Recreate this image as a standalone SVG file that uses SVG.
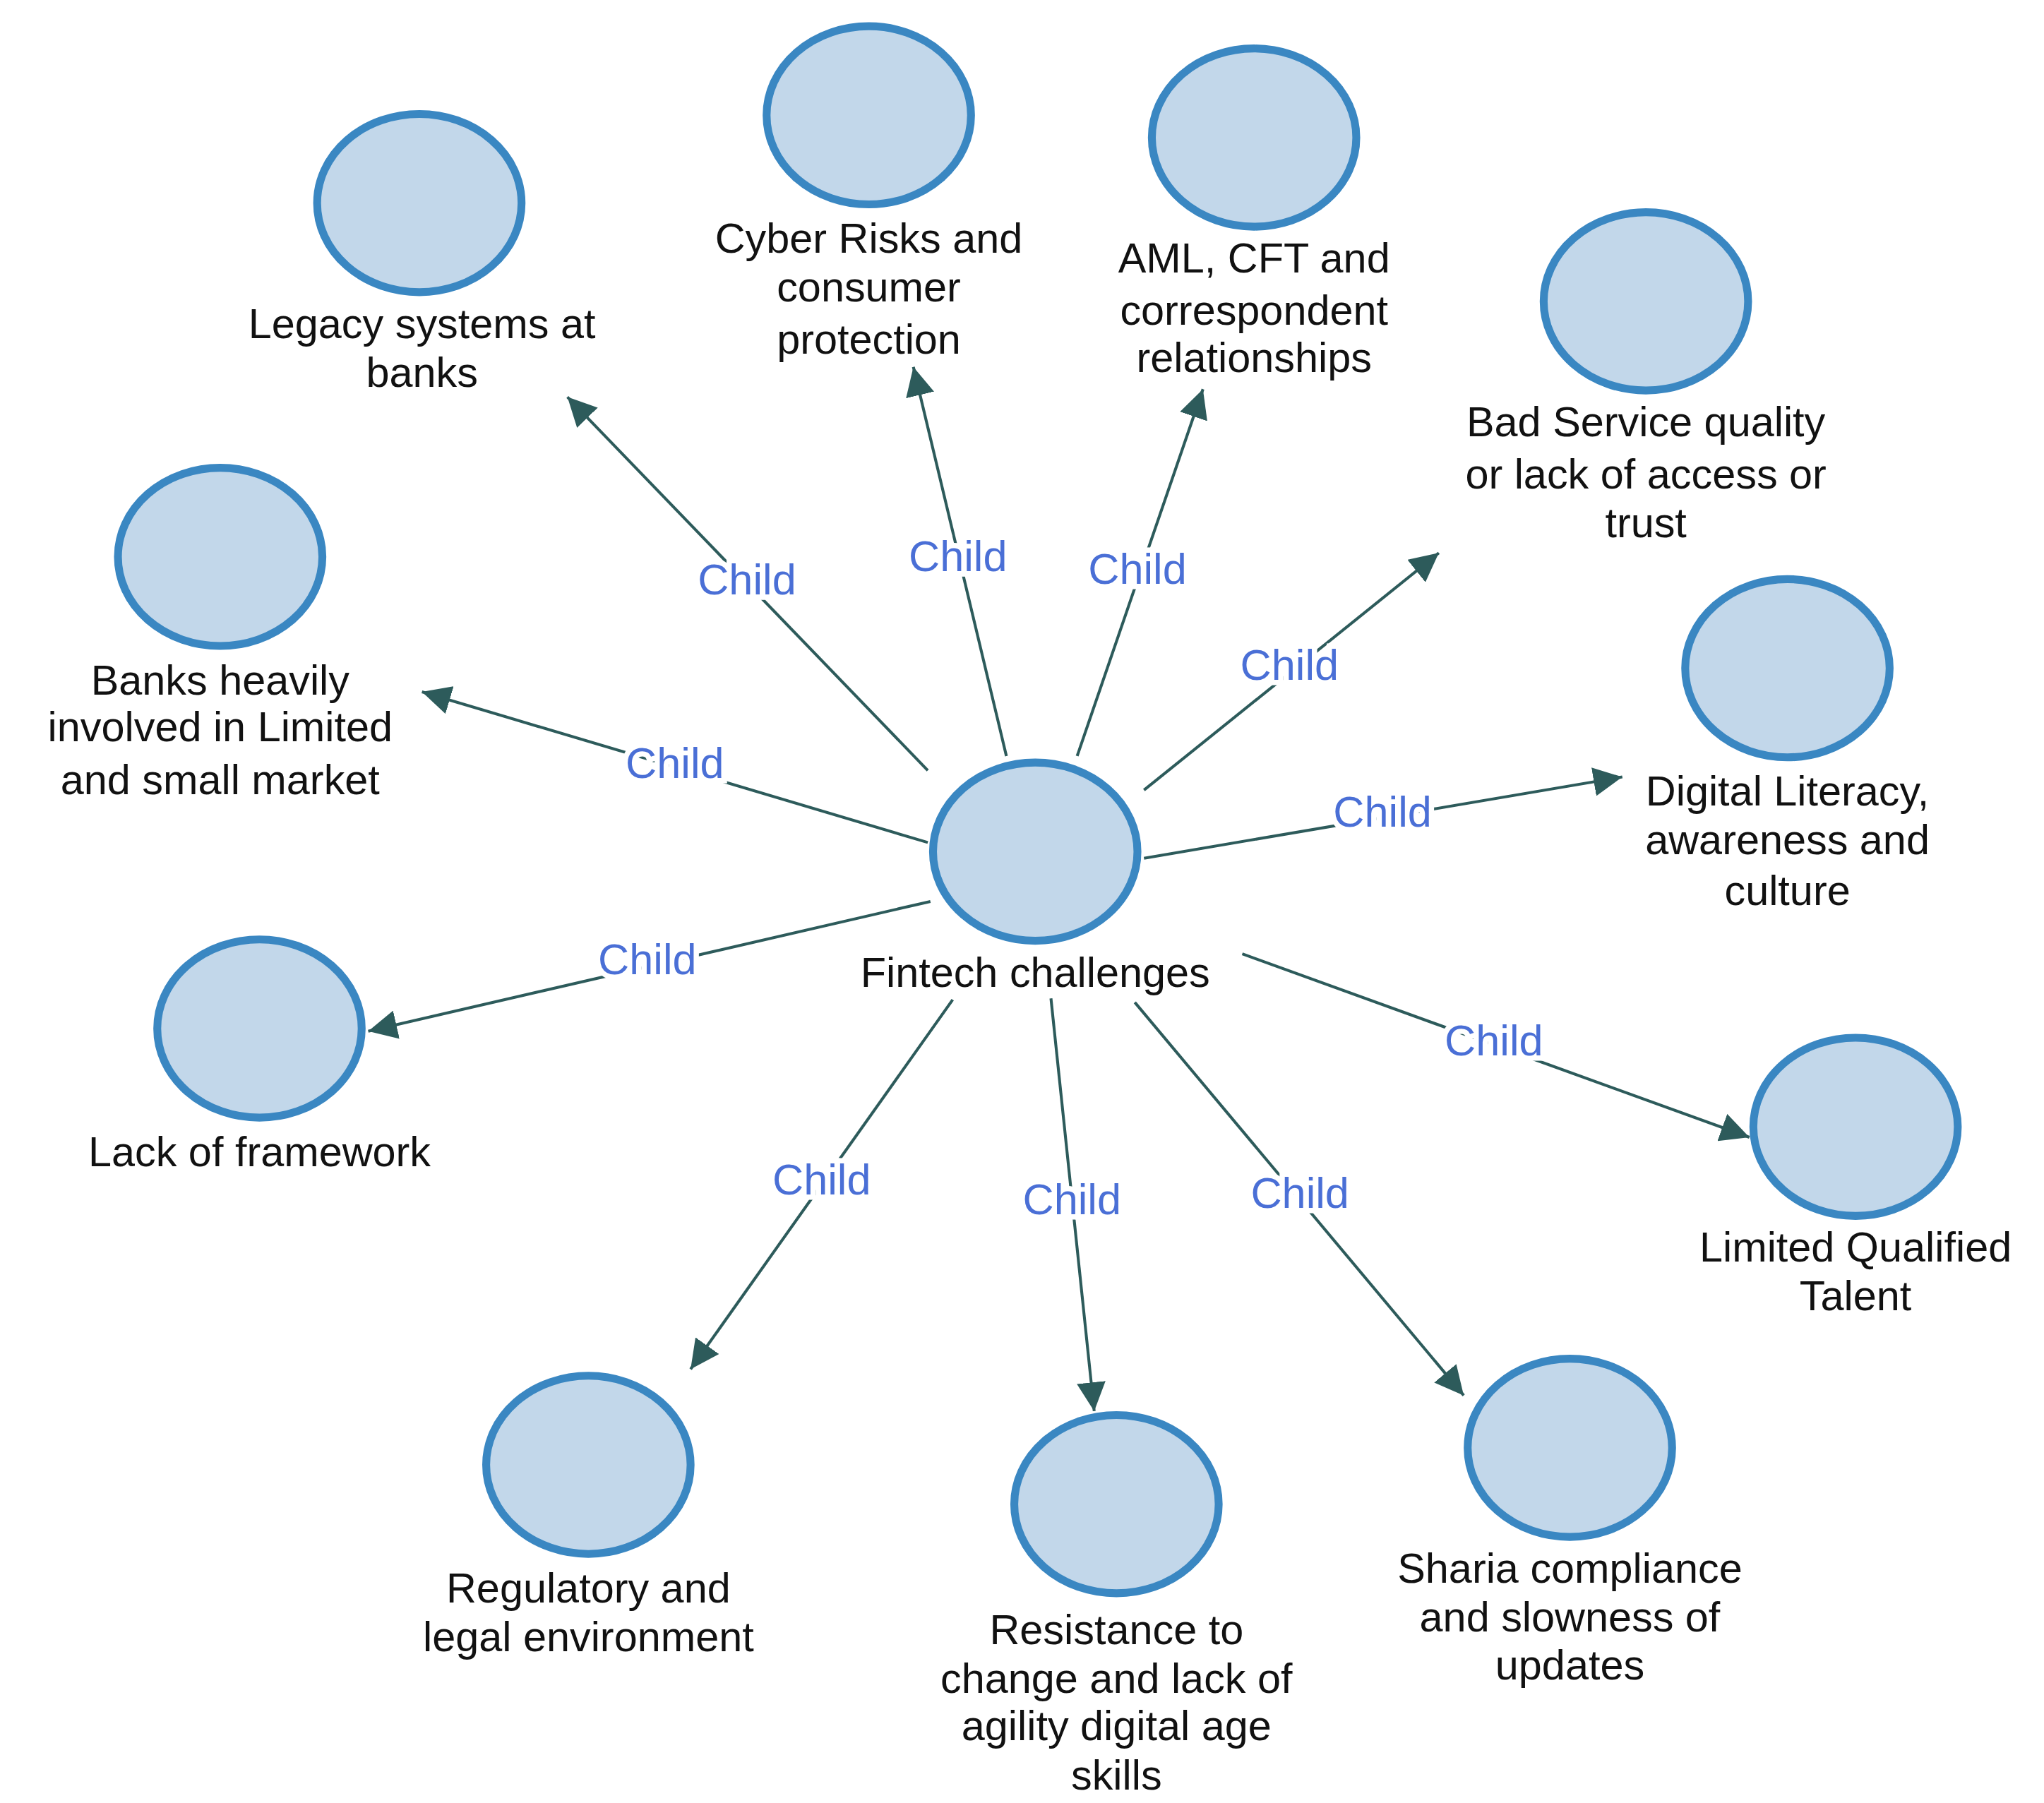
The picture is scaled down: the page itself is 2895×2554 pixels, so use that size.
<svg xmlns="http://www.w3.org/2000/svg" width="2895" height="2554" viewBox="0 0 2895 2554">
<style>
.n{fill:#c2d7ea;stroke:#3a87c2;stroke-width:6}
.t{font-family:"Liberation Sans",Arial,sans-serif;font-size:32px;fill:#111;text-anchor:middle}
.c{font-family:"Liberation Sans",Arial,sans-serif;font-size:33px;fill:#4a6fd6;text-anchor:middle;stroke:#fff;stroke-width:8;paint-order:stroke;dominant-baseline:middle}
.e{stroke:#2d5b5b;stroke-width:2.2;fill:none;marker-end:url(#a)}
</style>
<defs><marker id="a" viewBox="0 0 10 10" refX="10" refY="5" markerWidth="11" markerHeight="11" markerUnits="userSpaceOnUse" orient="auto"><path d="M0,0L10,5L0,10z" fill="#2d5b5b"/></marker>
<marker id="b" viewBox="0 0 10 10" refX="10" refY="5" markerWidth="22" markerHeight="22" markerUnits="userSpaceOnUse" orient="auto"><path d="M0,0L10,5L0,10z" fill="#2d5b5b"/></marker></defs>
<rect width="2895" height="2554" fill="#fff"/>
<g transform="scale(1.856)">
<g id="edges">
<path class="e" style="marker-end:url(#b)" d="M708,588L433,303"/>
<path class="e" style="marker-end:url(#b)" d="M768,577L697,280"/>
<path class="e" style="marker-end:url(#b)" d="M822,577L918,297"/>
<path class="e" style="marker-end:url(#b)" d="M873,603L1098,422"/>
<path class="e" style="marker-end:url(#b)" d="M873,655L1238,593"/>
<path class="e" style="marker-end:url(#b)" d="M948,728L1335,868"/>
<path class="e" style="marker-end:url(#b)" d="M866,765L1117,1065"/>
<path class="e" style="marker-end:url(#b)" d="M802,762L835,1077"/>
<path class="e" style="marker-end:url(#b)" d="M727,763L527,1045"/>
<path class="e" style="marker-end:url(#b)" d="M710,688L281,787"/>
<path class="e" style="marker-end:url(#b)" d="M708,643L322,528"/>
<text class="c" x="570" y="445">Child</text>
<text class="c" x="731" y="427">Child</text>
<text class="c" x="868" y="437">Child</text>
<text class="c" x="984" y="510">Child</text>
<text class="c" x="1055" y="622">Child</text>
<text class="c" x="1140" y="797">Child</text>
<text class="c" x="992" y="913">Child</text>
<text class="c" x="818" y="918">Child</text>
<text class="c" x="627" y="903">Child</text>
<text class="c" x="494" y="735">Child</text>
<text class="c" x="515" y="585">Child</text>
</g>
<g id="center"><ellipse class="n" cx="790" cy="650" rx="78" ry="68"/><text class="t" x="790" y="753">Fintech challenges</text></g>
<g id="legacy"><ellipse class="n" cx="320" cy="155" rx="78" ry="68"/><text class="t" x="322" y="258">Legacy systems at</text><text class="t" x="322" y="295">banks</text></g>
<g id="cyber"><ellipse class="n" cx="663" cy="88" rx="78" ry="68"/><text class="t" x="663" y="193">Cyber Risks and</text><text class="t" x="663" y="230">consumer</text><text class="t" x="663" y="270">protection</text></g>
<g id="aml"><ellipse class="n" cx="957" cy="105" rx="78" ry="68"/><text class="t" x="957" y="208">AML, CFT and</text><text class="t" x="957" y="248">correspondent</text><text class="t" x="957" y="284">relationships</text></g>
<g id="bad"><ellipse class="n" cx="1256" cy="230" rx="78" ry="68"/><text class="t" x="1256" y="333">Bad Service quality</text><text class="t" x="1256" y="373">or lack of access or</text><text class="t" x="1256" y="410">trust</text></g>
<g id="digital"><ellipse class="n" cx="1364" cy="510" rx="78" ry="68"/><text class="t" x="1364" y="615">Digital Literacy,</text><text class="t" x="1364" y="652">awareness and</text><text class="t" x="1364" y="691">culture</text></g>
<g id="talent"><ellipse class="n" cx="1416" cy="860" rx="78" ry="68"/><text class="t" x="1416" y="963">Limited Qualified</text><text class="t" x="1416" y="1000">Talent</text></g>
<g id="sharia"><ellipse class="n" cx="1198" cy="1105" rx="78" ry="68"/><text class="t" x="1198" y="1208">Sharia compliance</text><text class="t" x="1198" y="1245">and slowness of</text><text class="t" x="1198" y="1282">updates</text></g>
<g id="resistance"><ellipse class="n" cx="852" cy="1148" rx="78" ry="68"/><text class="t" x="852" y="1255">Resistance to</text><text class="t" x="852" y="1292">change and lack of</text><text class="t" x="852" y="1328">agility digital age</text><text class="t" x="852" y="1366">skills</text></g>
<g id="regulatory"><ellipse class="n" cx="449" cy="1118" rx="78" ry="68"/><text class="t" x="449" y="1223">Regulatory and</text><text class="t" x="449" y="1260">legal environment</text></g>
<g id="framework"><ellipse class="n" cx="198" cy="785" rx="78" ry="68"/><text class="t" x="198" y="890">Lack of framework</text></g>
<g id="banks"><ellipse class="n" cx="168" cy="425" rx="78" ry="68"/><text class="t" x="168" y="530">Banks heavily</text><text class="t" x="168" y="566">involved in Limited</text><text class="t" x="168" y="606">and small market</text></g>
</g>
</svg>
